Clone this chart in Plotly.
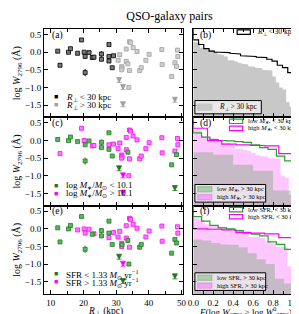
import plotly.graph_objects as go

# ---------------- data ----------------
R_kpc = [12.1, 12.8, 15.4, 16.0, 18.2, 19.4, 20.2, 20.5, 20.5, 21.7, 22.7, 23.2, 25.5, 25.5,
         27.8, 27.8, 27.8, 28.8, 29.2,
         30.6, 31.1, 31.7, 31.8, 31.7, 33.1, 33.6, 33.1, 34.1, 34.4, 35.2, 36.4, 34.1, 33.9,
         37.2, 37.7, 39.1, 40.1, 44.0, 44.1, 48.8, 48.9, 48.0, 48.5, 47.0,
         30.9, 32.1, 32.1, 48.0]
logW = [0.03, -0.37, 0.00, 0.10, -0.03, 0.35, 0.00, -0.12, -0.58, -0.01, -0.15, -0.14, -0.05, -0.20,
        0.22, -0.12, -0.25, -0.44, -0.10,
        -0.23, -0.07, -0.41, -0.45, -0.50, -0.26, -0.33, 0.09, 0.30, 0.27, 0.13, 0.02, -0.52, -1.00,
        -0.52, -0.44, -0.23, -0.06, 0.08, -0.35, 0.06, -0.12, -0.30, -0.40, -0.69,
        -0.86, -1.06, -1.55, -1.42]
logW_err = [0.03, 0.05, 0.03, 0.03, 0.03, 0.04, 0.03, 0.04, 0.10, 0.03, 0.03, 0.03, 0.08, 0.04,
            0.03, 0.03, 0.03, 0.04, 0.03,
            0.03, 0.03, 0.03, 0.03, 0.03, 0.03, 0.03, 0.03, 0.03, 0.03, 0.03, 0.03, 0.03, 0.03,
            0.03, 0.03, 0.03, 0.03, 0.03, 0.03, 0.03, 0.03, 0.03, 0.03, 0.03,
            0.0, 0.0, 0.0, 0.0]
upper_limit = [0] * 44 + [1, 1, 1, 1]
high_mass = [0, 1, 0, 0, 0, 1, 1, 0, 0, 0, 1, 1, 0, 0,
             0, 1, 0, 0, 1,
             1, 1, 1, 1, 1, 1, 0, 1, 1, 1, 1, 1, 1, 1,
             1, 1, 1, 1, 1, 1, 1, 1, 1, 0, 0,
             0, 1, 1, 0]
high_sfr = [0, 0, 0, 0, 1, 0, 1, 1, 0, 1, 0, 1, 0, 0,
            0, 0, 1, 0, 1,
            1, 1, 1, 0, 1, 1, 0, 1, 1, 1, 1, 1, 1, 0,
            0, 0, 1, 1, 1, 1, 1, 1, 0, 0, 0,
            0, 1, 0, 0]
R_SPLIT = 30.0

X_RANGE_L = [7.9, 50.6]
X_RANGE_R = [0.0, 1.1]
Y_RANGE = [-1.85, 0.66]

FONT = "Liberation Serif"
BLACK_E, BLACK_F = "#000000", "#7a7a7a"
GRAY_E, GRAY_F = "#a0a0a0", "#d0d0d0"
GREEN_E, GREEN_F = "#1f7a1f", "#5cb85c"
MAG_E, MAG_F = "#ff00ff", "#ff80ff"

fig = go.Figure()

W = 299
H = 314
ML, MR, MT, MB = 36, 1, 21, 28
PH = H - MT - MB
split_l = (177 - ML) / (W - ML - MR)
split_r = (187 - ML) / (W - ML - MR)

rows = [("", "2"), ("3", "4"), ("5", "6")]
ydoms = [[2 / 3, 1.0], [1 / 3, 2 / 3], [0.0, 1 / 3]]


def idx(cond):
    return [i for i in range(len(R_kpc)) if cond(i)]


def scatter(ax, sel, edge, face, name):
    det = [i for i in sel if not upper_limit[i]]
    lim = [i for i in sel if upper_limit[i]]
    xa, ya = "x" + ax, "y" + ax
    fig.add_trace(go.Scatter(
        x=[R_kpc[i] for i in det], y=[logW[i] for i in det],
        error_y=dict(type="data", array=[logW_err[i] for i in det], color=edge,
                     thickness=1, width=0),
        mode="markers", marker=dict(symbol="square", size=4, color=face,
                                    line=dict(color=edge, width=0.8)),
        xaxis=xa, yaxis=ya, showlegend=False, name=name))
    fig.add_trace(go.Scatter(
        x=[R_kpc[i] for i in lim], y=[logW[i] for i in lim],
        mode="markers", marker=dict(symbol="arrow-bar-down", size=5, color=edge,
                                    line=dict(color=edge, width=0.8)),
        xaxis=xa, yaxis=ya, showlegend=False, name=name + " limits"))


def cdf_path(sel):
    v = sorted([logW[i] for i in sel], reverse=True)
    n = len(v)
    xs, ys = [0.0], [Y_RANGE[1]]
    for k, w in enumerate(v):
        xs += [k / n, (k + 1) / n]
        ys += [w, w]
    xs.append(1.0)
    ys.append(Y_RANGE[0])
    return xs, ys


def cdf(ax, sel, line=None, fill=None, width=1.2):
    xs, ys = cdf_path(sel)
    xa, ya = "x" + ax, "y" + ax
    if fill is not None:
        fig.add_trace(go.Scatter(x=xs, y=ys, mode="lines", fill="tozerox",
                                 fillcolor=fill, line=dict(width=0, color=fill),
                                 xaxis=xa, yaxis=ya, showlegend=False))
    if line is not None:
        fig.add_trace(go.Scatter(x=xs, y=ys, mode="lines",
                                 line=dict(width=width, color=line),
                                 xaxis=xa, yaxis=ya, showlegend=False))


inner = lambda i: R_kpc[i] < R_SPLIT
outer = lambda i: R_kpc[i] >= R_SPLIT

# ---- panel (a)/(b) ----
scatter("", idx(outer), GRAY_E, GRAY_F, "R>30")
scatter("", idx(inner), BLACK_E, BLACK_F, "R<30")
cdf("2", idx(outer), fill="#c8c8c8")
cdf("2", idx(inner), line="#000000")

# ---- panel (c)/(d) ----
scatter("3", idx(lambda i: high_mass[i] == 1), MAG_E, MAG_F, "high M")
scatter("3", idx(lambda i: high_mass[i] == 0), GREEN_E, GREEN_F, "low M")
cdf("4", idx(lambda i: outer(i) and high_mass[i] == 1), fill="rgba(255,0,255,0.22)")
cdf("4", idx(lambda i: outer(i) and high_mass[i] == 0), fill="rgba(0,140,0,0.22)")
cdf("4", idx(lambda i: inner(i) and high_mass[i] == 0), line="#2ca02c")
cdf("4", idx(lambda i: inner(i) and high_mass[i] == 1), line="#ff00ff")

# ---- panel (e)/(f) ----
scatter("5", idx(lambda i: high_sfr[i] == 1), MAG_E, MAG_F, "high SFR")
scatter("5", idx(lambda i: high_sfr[i] == 0), GREEN_E, GREEN_F, "low SFR")
cdf("6", idx(lambda i: outer(i) and high_sfr[i] == 1), fill="rgba(255,0,255,0.22)")
cdf("6", idx(lambda i: outer(i) and high_sfr[i] == 0), fill="rgba(0,140,0,0.22)")
cdf("6", idx(lambda i: inner(i) and high_sfr[i] == 0), line="#2ca02c")
cdf("6", idx(lambda i: inner(i) and high_sfr[i] == 1), line="#ff00ff")

# ---------------- axes ----------------
axbase = dict(showline=True, linecolor="black", linewidth=1, mirror="allticks",
              ticks="inside", ticklen=4, tickcolor="black", showgrid=False, zeroline=False,
              tickfont=dict(family=FONT, size=9, color="black"))
ytitle = "log <i>W</i><sub>2796</sub> (Å)"
for r, (la, ra) in enumerate(rows):
    bottom = r == 2
    lk = "xaxis" + la
    rk = "xaxis" + ra
    fig.layout[lk] = dict(axbase, domain=[0, split_l], range=X_RANGE_L, dtick=10, tick0=10,
                          minor=dict(dtick=5, ticks="inside", ticklen=3, tickcolor="black"),
                          showticklabels=bottom, anchor="y" + la)
    fig.layout[rk] = dict(axbase, domain=[split_r, 1.0], range=X_RANGE_R, dtick=0.2, tick0=0,
                          tickformat=".1f",
                          minor=dict(dtick=0.1, ticks="inside", ticklen=3, tickcolor="black"),
                          showticklabels=bottom, anchor="y" + ra)
    fig.layout["yaxis" + la] = dict(axbase, domain=ydoms[r], range=Y_RANGE, dtick=0.5,
                                    tick0=0, tickformat=".1f", anchor="x" + la,
                                    title=dict(text=ytitle, standoff=2,
                                               font=dict(family=FONT, size=10, color="black")))
    fig.layout["yaxis" + ra] = dict(axbase, domain=ydoms[r], range=Y_RANGE, dtick=0.5,
                                    tick0=0, showticklabels=False, anchor="x" + ra)

# ---------------- legends / labels (annotations + swatches) ----------------
ann = []
shapes = []
TF = dict(family=FONT, size=9, color="black")


def text(xref, yref, x, y, s, size=9, xanchor="left"):
    ann.append(dict(xref=xref, yref=yref, x=x, y=y, text=s, showarrow=False,
                    xanchor=xanchor, yanchor="middle", font=dict(TF, size=size)))


def swatch(xref, yref, x0, x1, yc, h, line, fill):
    shapes.append(dict(type="rect", xref=xref, yref=yref, x0=x0, x1=x1, y0=yc - h / 2,
                       y1=yc + h / 2, line=dict(color=line, width=1.2), fillcolor=fill,
                       layer="above"))


# x-axis titles
TY = -(303 - (H - MB)) / PH
text("paper", "paper", (98 - ML) / (W - ML - MR), TY,
     "<i>R</i><sub>⊥</sub> (kpc)", size=9.5, xanchor="center")
text("paper", "paper", (240 - ML) / (W - ML - MR), TY,
     "<i>F</i>(log <i>W</i><sub>2796</sub> > log <i>W</i><sup>0</sup><sub>2796</sub>)",
     size=9, xanchor="center")

labels = ["(a)", "(b)", "(c)", "(d)", "(e)", "(f)"]
axes_order = ["", "2", "3", "4", "5", "6"]
for lab, a in zip(labels, axes_order):
    text("x%s domain" % a, "y%s domain" % a, 0.04, 0.93, lab, size=9.5)

left_leg = [
    ("", [(BLACK_E, "<i>R</i><sub>⊥</sub> < 30 kpc"), (GRAY_E, "<i>R</i><sub>⊥</sub> > 30 kpc")]),
    ("3", [(GREEN_E, "log <i>M</i><sub>∗</sub>/<i>M</i><sub>⊙</sub> < 10.1"),
           (MAG_E, "log <i>M</i><sub>∗</sub>/<i>M</i><sub>⊙</sub> > 10.1")]),
    ("5", [(GREEN_E, "SFR < 1.33 <i>M</i><sub>⊙</sub> yr<sup>−1</sup>"),
           (MAG_E, "SFR > 1.33 <i>M</i><sub>⊙</sub> yr<sup>−1</sup>")]),
]
for a, items in left_leg:
    for k, (c, s) in enumerate(items):
        yy = 0.225 - k * 0.09
        text("x%s domain" % a, "y%s domain" % a, 0.06,
             yy, "<span style='color:%s'>■</span>" % c, size=7)
        text("x%s domain" % a, "y%s domain" % a, 0.14, yy, s, size=9)

# (b)
swatch("x2 domain", "y2 domain", 0.40, 0.52, 0.965, 0.05, "black", "rgba(0,0,0,0)")
text("x2 domain", "y2 domain", 0.56, 0.965, "<i>R</i><sub>⊥</sub> < 30 kpc", size=7.5)
shapes.append(dict(type="rect", xref="x2 domain", yref="y2 domain", x0=0.015, x1=0.62,
                   y0=0.04, y1=0.19, line=dict(color="black", width=1),
                   fillcolor="rgba(255,255,255,0.6)", layer="above"))
swatch("x2 domain", "y2 domain", 0.04, 0.17, 0.115, 0.07, "#c8c8c8", "#c8c8c8")
text("x2 domain", "y2 domain", 0.22, 0.115, "<i>R</i><sub>⊥</sub> > 30 kpc", size=7.5)

for a, nm in [("4", "<i>M</i><sub>∗</sub>"), ("6", "SFR")]:
    xr, yr = "x%s domain" % a, "y%s domain" % a
    swatch(xr, yr, 0.33, 0.45, 0.955, 0.05, "#2ca02c", "rgba(0,0,0,0)")
    swatch(xr, yr, 0.33, 0.45, 0.875, 0.05, "#ff00ff", "rgba(0,0,0,0)")
    text(xr, yr, 0.48, 0.955, "low %s, < 30 kpc" % nm, size=6.5)
    text(xr, yr, 0.48, 0.875, "high %s, < 30 kpc" % nm, size=6.5)
    shapes.append(dict(type="rect", xref=xr, yref=yr, x0=0.015, x1=0.66,
                       y0=0.04, y1=0.24, line=dict(color="black", width=1),
                       fillcolor="rgba(255,255,255,0.6)", layer="above"))
    swatch(xr, yr, 0.04, 0.17, 0.185, 0.06, "rgba(0,140,0,0.25)", "rgba(0,140,0,0.25)")
    swatch(xr, yr, 0.04, 0.17, 0.095, 0.06, "rgba(255,0,255,0.25)", "rgba(255,0,255,0.25)")
    text(xr, yr, 0.20, 0.185, "low %s, > 30 kpc" % nm, size=6.5)
    text(xr, yr, 0.20, 0.095, "high %s, > 30 kpc" % nm, size=6.5)

fig.update_layout(
    width=W, height=H, margin=dict(l=ML, r=MR, t=MT, b=MB),
    paper_bgcolor="white", plot_bgcolor="white", showlegend=False,
    title=dict(text="QSO-galaxy pairs", x=0.54, xanchor="center", y=0.975,
               yanchor="middle", font=dict(family=FONT, size=12, color="black")),
    annotations=ann, shapes=shapes,
)

fig.write_html("out.html")
